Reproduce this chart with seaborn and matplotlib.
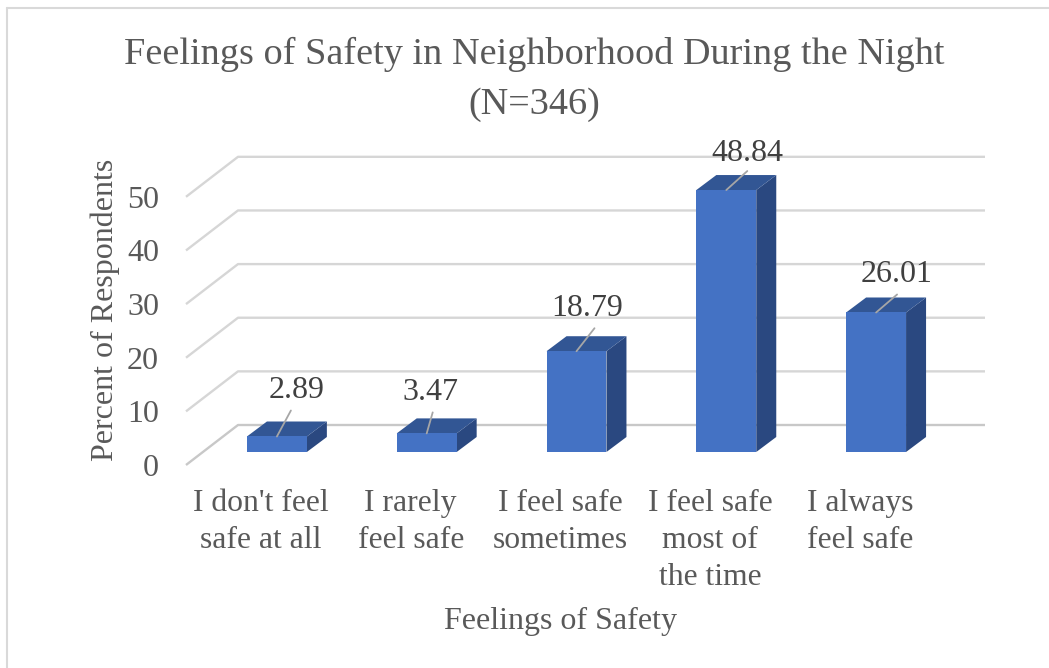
import matplotlib
matplotlib.use("Agg")
import matplotlib.pyplot as plt
import seaborn as sns
from matplotlib.lines import Line2D
from matplotlib.patches import Polygon
from matplotlib.transforms import Affine2D

# data
categories = ["I don't feel\nsafe at all", "I rarely\nfeel safe", "I feel safe\nsometimes",
              "I feel safe\nmost of\nthe time", "I always\nfeel safe"]
percents = [2.89, 3.47, 18.79, 48.84, 26.01]
y_ticks = [0, 10, 20, 30, 40, 50]
# pixel offsets of each value label and the end of its leader line, from the bar top centre
label_offsets = [(20, 46), (4, 41), (11, 43), (21, 37), (20, 38)]
leader_ends = [(14, 26), (6, 21), (18, 23), (21, 19), (21, 18)]

W, H = 1049, 668
BAR_W = 0.4
AX_L, AX_R, AX_B, AX_T = 202, 951, 452, 157  # axes box in image pixels
GREY = "#595959"


def px(v):
    """Image pixels to points at dpi 100."""
    return v * 0.72


def shift(label, dx, dy):
    """Move a tick label by some pixels (y upwards)."""
    label.set_transform(label.get_transform() + Affine2D().translate(dx, dy))


sns.set_theme(style="white")
plt.rcParams["font.family"] = ["Liberation Serif", "DejaVu Serif"]

fig = plt.figure(figsize=(W / 100, H / 100), dpi=100)
ax = fig.add_axes([AX_L / W, (H - AX_B) / H, (AX_R - AX_L) / W, (AX_B - AX_T) / H])

sns.barplot(x=categories, y=percents, color="#4472C4", saturation=1, width=BAR_W, ax=ax, zorder=3,
            linewidth=0, edgecolor="none")
ax.set_xlim(-0.5, len(categories) - 0.5)
ax.set_ylim(0, 55)
sns.despine(ax=ax, left=True, bottom=True)

# sizes of one unit in pixels, used for the fake depth
ux = (AX_R - AX_L) / len(categories)
uy = (AX_B - AX_T) / 55

# floor/wall: short diagonal plus long line along the back
for t in y_ticks:
    xs = [-0.5 - 16 / ux, -0.5 + 36 / ux, len(categories) - 0.5 + 34 / ux]
    ys = [t - 13 / uy, t + 27 / uy, t + 27 / uy]
    ax.plot(xs, ys, color="#d6d6d6" if t else "#c8c8c8", lw=1.7, clip_on=False, zorder=1,
            solid_capstyle="butt")

# side and top faces of the bars
dx, dy = 20 / ux, 15 / uy
for bar in ax.patches[:len(percents)]:
    x0, x1 = bar.get_x(), bar.get_x() + bar.get_width()
    top = bar.get_height()
    ax.add_patch(Polygon([(x1, 0), (x1 + dx, dy), (x1 + dx, top + dy), (x1, top)],
                         color="#2a4880", lw=0, clip_on=False, zorder=2))
    ax.add_patch(Polygon([(x0, top), (x0 + dx, top + dy), (x1 + dx, top + dy), (x1, top)],
                         color="#325694", lw=0, clip_on=False, zorder=2))

# value labels with leader lines
for i, v in enumerate(percents):
    ax.annotate("", xy=(i, v), xytext=(px(leader_ends[i][0]), px(leader_ends[i][1])),
                textcoords="offset points", annotation_clip=False, zorder=4,
                arrowprops=dict(arrowstyle="-", color="#a6a6a6", lw=1.3, shrinkA=0, shrinkB=0))
    ax.annotate(f"{v:.2f}", xy=(i, v), xytext=(px(label_offsets[i][0]), px(label_offsets[i][1])),
                textcoords="offset points", ha="center", va="center", fontsize=23,
                color="#404040", annotation_clip=False, zorder=5)

ax.set_yticks(y_ticks)
ax.set_yticklabels([str(t) for t in y_ticks])
ax.tick_params(axis="y", length=0, pad=0, labelsize=23, labelcolor=GREY)
ax.tick_params(axis="x", length=0, pad=0, labelsize=22.8, labelcolor=GREY)
for lab in ax.get_yticklabels():
    shift(lab, 159 - AX_L, -13)
for lab in ax.get_xticklabels():
    lab.set_linespacing(1.36)
    shift(lab, -16, -37)

ax.set_xlabel("Feelings of Safety", fontsize=23, color=GREY)
ax.xaxis.set_label_coords(561 / W, (H - 621) / H, transform=fig.transFigure)
ax.xaxis.label.set_va("center")
ax.set_ylabel("Percent of Respondents", fontsize=23, color=GREY)
ax.yaxis.set_label_coords(105 / W, (H - 310) / H, transform=fig.transFigure)
ax.yaxis.label.set_va("center")

fig.text(534 / W, (H - 79) / H, "Feelings of Safety in Neighborhood During the Night\n(N=346)",
         ha="center", va="center", fontsize=27.5, color=GREY, linespacing=1.58)

# outer chart frame, only left and top survive in the picture
fig.add_artist(Line2D([7 / W, 7 / W], [0, (H - 8) / H], color="#d9d9d9", lw=1.5))
fig.add_artist(Line2D([7 / W, 1], [(H - 8) / H, (H - 8) / H], color="#d9d9d9", lw=1.5))

fig.savefig("out.png", dpi=100)
